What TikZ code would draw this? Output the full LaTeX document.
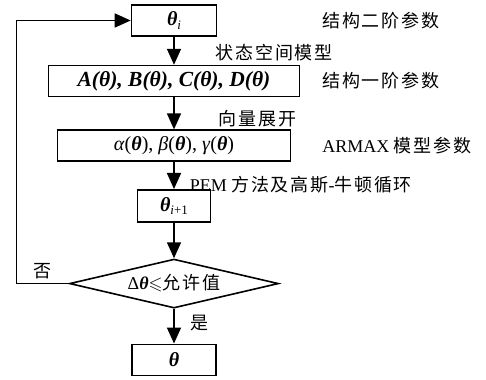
\documentclass[tikz,border=0pt]{standalone}
\usepackage{fontspec}
\usepackage{amssymb}
\setmainfont{Liberation Serif}
\newfontfamily\cjk[LetterSpace=10]{Noto Sans CJK SC}
\usetikzlibrary{matrix,shapes.geometric,arrows.meta}

\newcommand\bi[1]{\textbf{\textit{#1}}}
\newcommand\bth{\bi{θ}}
\newcommand\sbi[1]{\raisebox{-0.35ex}{\fontsize{13}{13}\selectfont #1}}

\tikzset{
  flowline/.style={line width=1.6pt},
  flowarrow/.style={flowline,-{Triangle[length=16pt,width=14pt]}},
  box/.style={draw,rectangle,line width=1.6pt,minimum height=31pt,inner sep=0pt,font=\fontsize{20}{23}\selectfont},
  test/.style={draw,diamond,line width=1.6pt,minimum width=209pt,minimum height=49pt,inner sep=0pt,aspect=4.3},
  note/.style={anchor=west,inner sep=0pt},
}

\def\FlowChart{
    \matrix (flow)
    [matrix of nodes,
    ampersand replacement=\&,
    column sep={22pt},
    row sep={27pt},
    column 1/.style={nodes={anchor=center}},
    column 2/.style={nodes={anchor=west,inner sep=0pt}}]
    {
     |[box,minimum width=85pt]| \bth\sbi{\textit{i}} \& {\cjk 结构二阶参数}\\[1pt]
     |[box,minimum width=251pt,font=\fontsize{21.5}{24}\selectfont]| \bi{A(θ), B(θ), C(θ), D(θ)} \& {\cjk 结构一阶参数}\\[5pt]
     |[box,minimum width=233pt]| \textit{α}(\bth), \textit{β}(\bth), \textit{γ}(\bth) \& ARMAX {\cjk 模型参数}\\
     |[box,minimum width=73pt,minimum height=32pt]| \bth\sbi{\textit{i}+1} \\[9pt]
     |[test]| Δ\bth$\leqslant${\cjk 允许值} \\[8pt]
     |[box,minimum width=84pt]| \bth \\
    };
}

\begin{document}
\begin{tikzpicture}[font=\fontsize{18}{21}\selectfont]
    \FlowChart
    \path[use as bounding box] ([shift={(-174pt,20.5pt)}]flow-1-1.center) rectangle ++(486pt,-373pt);
    \draw[flowarrow] (flow-1-1) -- node[note,xshift=41pt,pos=0.57] (n1) {\cjk 状态空间模型} (flow-2-1);
    \draw[flowarrow] (flow-2-1) -- node[note,xshift=44pt,pos=0.66] (n2) {\cjk 向量展开} (flow-3-1);
    \draw[flowarrow] (flow-3-1) -- node[note,xshift=15pt,pos=0.86] (n3) {PEM {\cjk 方法及高斯}-{\cjk 牛顿循环}} (flow-4-1);
    \draw[flowarrow] (flow-4-1) -- (flow-5-1);
    \draw[flowarrow] (flow-5-1) -- node[note,xshift=16pt,pos=0.4] (yes) {\cjk 是} (flow-6-1);
    \draw[flowarrow] (flow-5-1.west) -- node[above] (no) {\cjk 否} ++(-52pt,0) |- (flow-1-1.west);
\end{tikzpicture}
\end{document}
